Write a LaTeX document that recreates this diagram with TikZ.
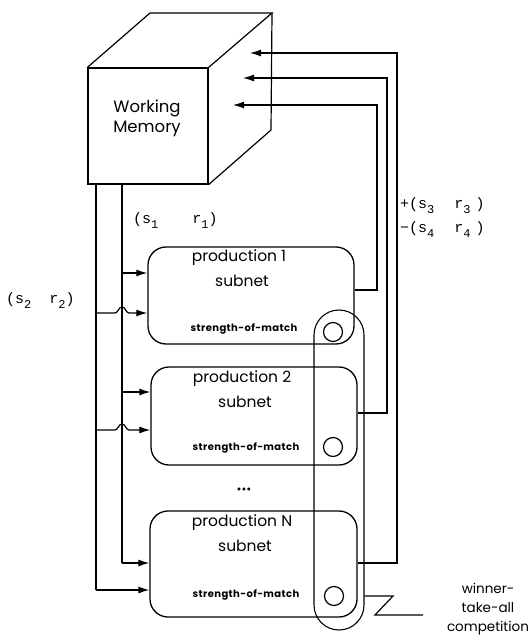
\documentclass[tikz,border=0pt]{standalone}
\usepackage{fontspec}
\setmainfont{Poppins}
\newfontfamily\monof{Liberation Mono}
\newcommand\sbx[1]{\raisebox{-5pt}{\fontsize{12}{12}\selectfont #1}}
\usetikzlibrary{arrows.meta}
\begin{document}
\begin{tikzpicture}[x=1pt,y=-1pt,
  ln/.style={line width=1.2pt},
  arr/.style={ln,-{Latex[length=11pt,width=7pt]}},
  prodbox/.style={draw,line width=1.3pt,rounded corners=18pt,inner sep=0pt},
  ptext/.style={font=\fontsize{15.5}{16}\selectfont,inner sep=0pt},
  stext/.style={font=\bfseries\fontsize{10}{10}\selectfont\addfontfeature{LetterSpace=4},inner sep=0pt},
  mtext/.style={font=\monof\fontsize{15}{16}\selectfont,inner sep=0pt,anchor=west},
  smallcirc/.style={draw,line width=1.2pt,circle,minimum size=19pt,inner sep=0pt},
  facebox/.style={draw,line width=1.2pt,inner sep=0pt}]
\useasboundingbox (0,0) rectangle (530,644);

% cube
\node[facebox,minimum width=120pt,minimum height=116pt] (wm) at (148,126) {};
\node[font=\fontsize{16.5}{20}\selectfont,align=center,inner sep=0pt] (wmtext) at (147,118) {Working\\Memory};
\coordinate (b1) at (150,13);
\coordinate (b2) at (272,13);
\coordinate (b3) at (271,130);
\draw[ln] (wm.north west) -- (b1) -- (b2) -- (wm.north east);
\draw[ln] (b2) -- (b3) -- (wm.south east);

% production boxes
\node[prodbox,minimum width=206pt,minimum height=97pt] (p1) at (251,295.5) {};
\node[prodbox,minimum width=206pt,minimum height=98pt] (p2) at (254,416) {};
\node[prodbox,minimum width=207pt,minimum height=106pt] (pN) at (253.5,564) {};

\node[ptext] (p1a) at (239,258) {production 1};
\node[ptext] (p1b) at (242,281) {subnet};
\node[stext] (p1c) at (244,329) {strength-of-match};
\node[ptext] (p2a) at (242,379) {production 2};
\node[ptext] (p2b) at (245,402) {subnet};
\node[stext] (p2c) at (246,448) {strength-of-match};
\node[ptext] (pNa) at (242,523) {production N};
\node[ptext] (pNb) at (245,546) {subnet};
\node[stext] (pNc) at (246,595) {strength-of-match};

\node[font=\fontsize{12}{12}\selectfont,inner sep=0pt] (dots) at (244,491) {\textbullet\textbullet\textbullet};

% strength circles
\node[smallcirc] (c1) at (333,332) {};
\node[smallcirc] (c2) at (333,447) {};
\node[smallcirc] (cN) at (334,596) {};

% winner-take-all oval
\node[draw,line width=1.1pt,rounded corners=25pt,minimum width=50pt,minimum height=320pt,inner sep=0pt] (wta) at (339,470) {};
\coordinate (z1) at (393,596);
\coordinate (z2) at (375,615);
\coordinate (z3) at (423,615);
\draw[ln] (wta.east |- cN) -- (z1) -- (z2) -- (z3);
\node[font=\fontsize{13.5}{19}\selectfont,align=center,inner sep=0pt] (wtatext) at (488,609) {winner-\\take-all\\competition};

% left input lines
\coordinate (oTop) at (96,184);
\coordinate (iTop) at (122,184);
\coordinate (oBot) at (96,590);
\coordinate (iBot) at (122,563);
\draw[ln] (oTop) -- (oBot);
\draw[ln] (iTop) -- (iBot);
\draw[arr] (oBot) -- (oBot -| pN.west);
\draw[arr] (iBot) -- (iBot -| pN.west);
\draw[arr] (122,273) -- (p1.west |- 0,273);
\draw[arr] (122,392) -- (p2.west |- 0,392);
\draw[arr] (96,313) -- (115,313) .. controls (118,313) and (118.5,307) .. (122,307) .. controls (125.5,307) and (126,313) .. (129,313) -- (p1.west |- 0,313);
\draw[arr] (96,430) -- (115,430) .. controls (118,430) and (118.5,424) .. (122,424) .. controls (125.5,424) and (126,430) .. (129,430) -- (p2.west |- 0,430);

% outputs back to working memory
\coordinate (r1) at (377,290);
\coordinate (r2) at (387,413);
\coordinate (rN) at (397,563);
\draw[arr] (p1.east |- r1) -- (r1) -- (377,105) -- (233,105);
\draw[arr] (p2.east |- r2) -- (r2) -- (387,78) -- (243,78);
\draw[arr] (pN.east |- rN) -- (rN) -- (397,53) -- (250,53);

% labels
\node[mtext] (l1) at (133,221) {(s\sbx{1}\hspace{34pt}r\sbx{1})};
\node[mtext] (l2) at (6,301) {(s\sbx{2}\hspace{18pt}r\sbx{2})};
\node[mtext] (l3) at (400,206) {+(s\sbx{3}\hspace{20pt}r\sbx{3}\hspace{5pt})};
\node[mtext] (l4) at (400,230) {−(s\sbx{4}\hspace{20pt}r\sbx{4}\hspace{5pt})};
\end{tikzpicture}
\end{document}
